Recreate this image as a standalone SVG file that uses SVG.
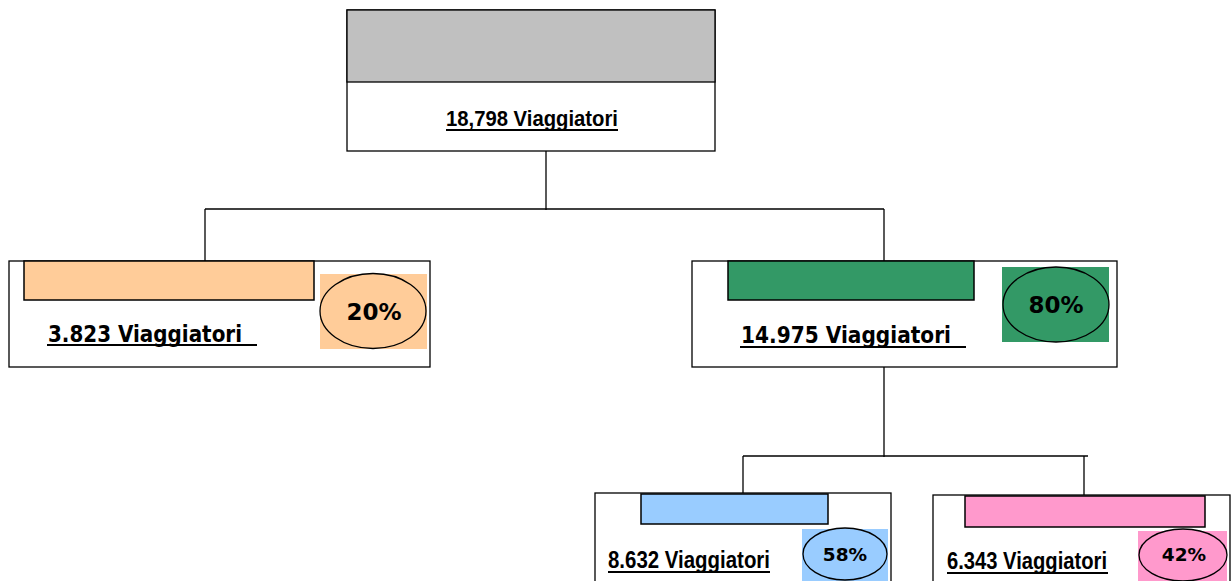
<svg xmlns="http://www.w3.org/2000/svg" width="1232" height="581" viewBox="0 0 1232 581">
<style>
.box{fill:#fff;stroke:#000;stroke-width:1.3}
.bar{stroke:#000;stroke-width:1.5}
.ell{stroke:#000;stroke-width:1.3}
.conn line{stroke:#000;stroke-width:1.3}
.ul{stroke:#000;stroke-width:2}
.lbl{font-family:"Liberation Sans",Arial,sans-serif;font-weight:bold;fill:#000}
.lblw{font-family:"DejaVu Sans",Verdana,sans-serif;font-weight:bold;fill:#000}
.pct{font-family:"DejaVu Sans",Verdana,sans-serif;font-weight:bold;fill:#000;text-anchor:middle}
</style>
<rect width="1232" height="581" fill="#fff"/>
<g class="conn" id="connectors">
<line x1="546" y1="151" x2="546" y2="210"/>
<line x1="205" y1="209" x2="884" y2="209"/>
<line x1="205" y1="209" x2="205" y2="261"/>
<line x1="884" y1="209" x2="884" y2="261"/>
<line x1="884" y1="367" x2="884" y2="457"/>
<line x1="743" y1="456" x2="1088" y2="456"/>
<line x1="743" y1="456" x2="743" y2="494"/>
<line x1="1084" y1="456" x2="1084" y2="495"/>
</g>
<g id="root">
<rect class="box" x="347" y="10" width="368" height="141"/>
<rect x="347" y="10" width="368" height="72" fill="#C0C0C0" stroke="#000" stroke-width="1.3"/>
<text class="lbl" x="446" y="126" font-size="21.5" textLength="172" lengthAdjust="spacingAndGlyphs">18,798 Viaggiatori</text>
<line class="ul" x1="446" y1="130" x2="618" y2="130"/>
</g>
<g id="left">
<rect class="box" x="9" y="261" width="421" height="106"/>
<rect class="bar" x="24" y="261" width="290" height="39" fill="#FFCC99"/>
<rect x="320" y="274" width="107" height="75" fill="#FFCC99"/>
<ellipse class="ell" cx="373" cy="311" rx="53" ry="37.5" fill="#FFCC99"/>
<text class="pct" x="374" y="320" font-size="23">20%</text>
<text class="lblw" x="48" y="342" font-size="22.5" textLength="194" lengthAdjust="spacingAndGlyphs">3.823 Viaggiatori</text>
<line class="ul" x1="47" y1="345" x2="257" y2="345"/>
</g>
<g id="right">
<rect class="box" x="692" y="261" width="425" height="106"/>
<rect class="bar" x="728" y="261" width="246" height="39" fill="#339966"/>
<rect x="1002" y="267" width="107" height="75" fill="#339966"/>
<ellipse class="ell" cx="1056" cy="304.5" rx="53" ry="37.5" fill="#339966"/>
<text class="pct" x="1056" y="313" font-size="23">80%</text>
<text class="lblw" x="741" y="343" font-size="22.5" textLength="210" lengthAdjust="spacingAndGlyphs">14.975 Viaggiatori</text>
<line class="ul" x1="740" y1="347" x2="966" y2="347"/>
</g>
<g id="bottom-left">
<rect class="box" x="595" y="493" width="296" height="100"/>
<rect class="bar" x="641" y="494" width="187" height="30" fill="#99CCFF"/>
<rect x="802" y="529" width="86" height="60" fill="#99CCFF"/>
<ellipse class="ell" cx="845" cy="554" rx="42" ry="26" fill="#99CCFF"/>
<text class="pct" x="845" y="561" font-size="18.5">58%</text>
<text class="lbl" x="608" y="568" font-size="23.5" textLength="162" lengthAdjust="spacingAndGlyphs">8.632 Viaggiatori</text>
<line class="ul" x1="608" y1="572" x2="770" y2="572"/>
</g>
<g id="bottom-right">
<rect class="box" x="933" y="495" width="297" height="100"/>
<rect class="bar" x="965" y="496" width="240" height="31" fill="#FF99CC"/>
<rect x="1138" y="531" width="89" height="60" fill="#FF99CC"/>
<ellipse class="ell" cx="1183" cy="555" rx="44" ry="26" fill="#FF99CC"/>
<text class="pct" x="1184" y="561" font-size="18.5">42%</text>
<text class="lbl" x="947" y="569" font-size="23.5" textLength="160" lengthAdjust="spacingAndGlyphs">6.343 Viaggiatori</text>
<line class="ul" x1="947" y1="573" x2="1108" y2="573"/>
</g>
</svg>
